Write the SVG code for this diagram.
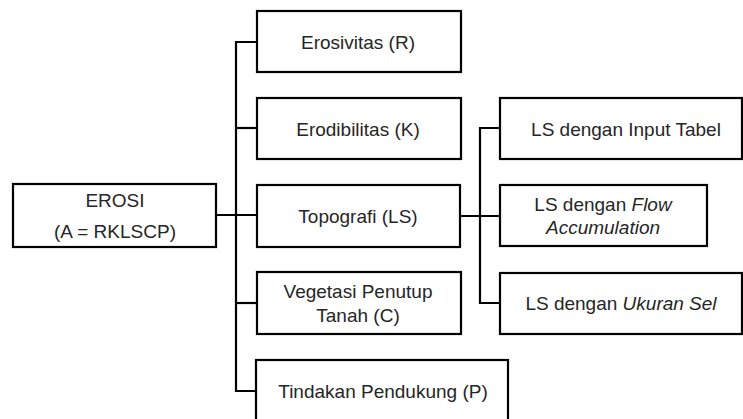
<svg xmlns="http://www.w3.org/2000/svg" width="743" height="419" viewBox="0 0 743 419">
<style>
.box{fill:#ffffff;stroke:#000000;stroke-width:2.2}
.t{font-family:"Liberation Sans",Arial,sans-serif;font-size:19px;fill:#262626;text-anchor:middle}
.i{font-style:italic}
.c{fill:none;stroke:#000000;stroke-width:2.2}
</style>
<rect width="743" height="419" fill="#ffffff"/>
<g id="connectors">
<path class="c" d="M216,215 H257"/>
<path class="c" d="M257,42 H236 V391 H257"/>
<path class="c" d="M236,128 H257"/>
<path class="c" d="M236,303 H257"/>
<path class="c" d="M460,216 H500"/>
<path class="c" d="M500,128 H480 V303 H500"/>
</g>
<g id="erosi">
<rect class="box" x="13" y="184" width="203" height="63"/>
<text class="t" x="115" y="207">EROSI</text>
<text class="t" x="115" y="238">(A = RKLSCP)</text>
</g>
<g id="erosivitas">
<rect class="box" x="257" y="11" width="204" height="61"/>
<text class="t" x="358" y="49">Erosivitas (R)</text>
</g>
<g id="erodibilitas">
<rect class="box" x="257" y="98" width="204" height="61"/>
<text class="t" x="358" y="136">Erodibilitas (K)</text>
</g>
<g id="topografi">
<rect class="box" x="257" y="185" width="203" height="62"/>
<text class="t" x="358" y="223">Topografi (LS)</text>
</g>
<g id="vegetasi">
<rect class="box" x="257" y="272" width="204" height="62"/>
<text class="t" x="358" y="298">Vegetasi Penutup</text>
<text class="t" x="358" y="322">Tanah (C)</text>
</g>
<g id="tindakan">
<rect class="box" x="256" y="360" width="252" height="70"/>
<text class="t" x="383" y="398">Tindakan Pendukung (P)</text>
</g>
<g id="ls-input">
<rect class="box" x="500" y="98" width="242" height="61"/>
<text class="t" x="626" y="136">LS dengan Input Tabel</text>
</g>
<g id="ls-flow">
<rect class="box" x="500" y="185" width="207" height="61"/>
<text class="t" x="603" y="211">LS dengan <tspan class="i">Flow</tspan></text>
<text class="t i" x="603" y="234">Accumulation</text>
</g>
<g id="ls-ukuran">
<rect class="box" x="500" y="273" width="242" height="61"/>
<text class="t" x="621" y="310">LS dengan <tspan class="i">Ukuran Sel</tspan></text>
</g>
</svg>
